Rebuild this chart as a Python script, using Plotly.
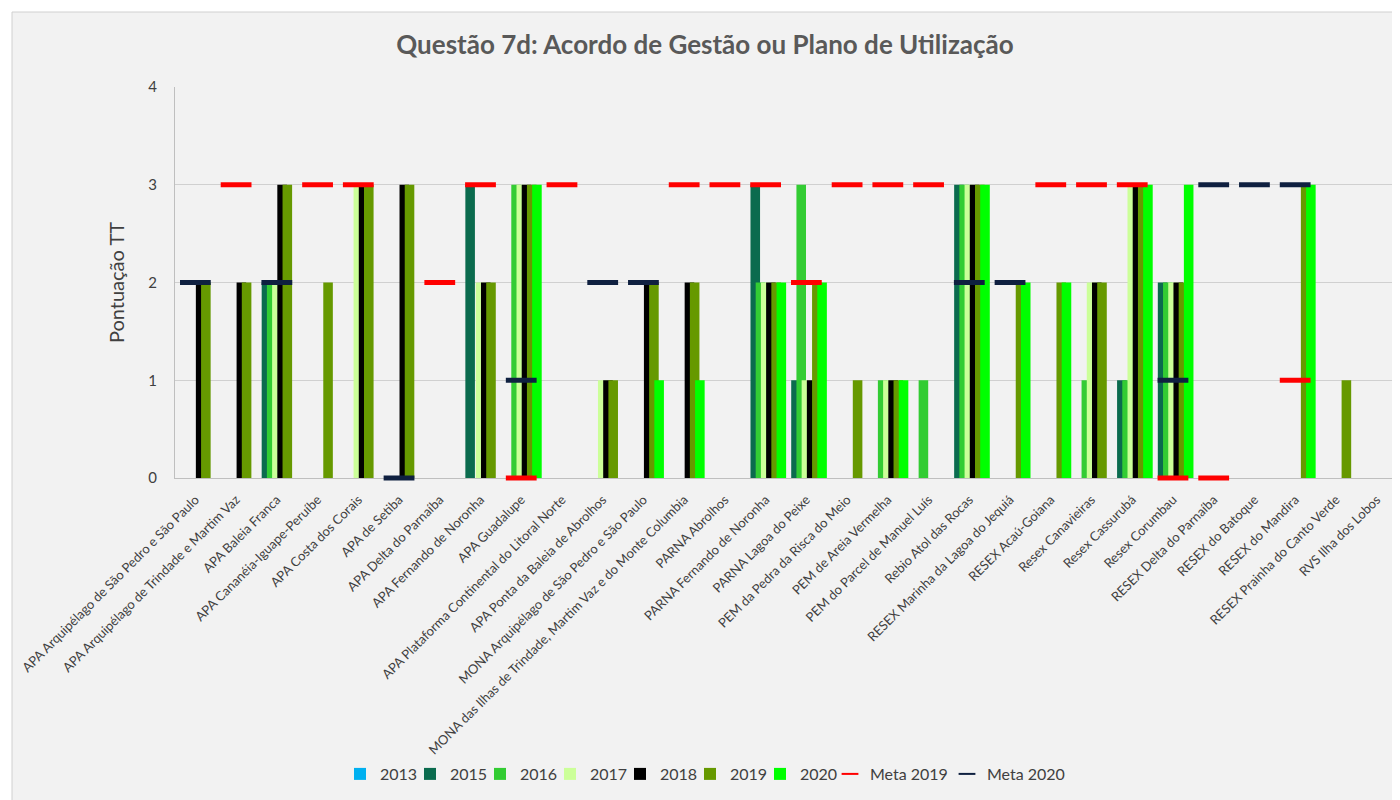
import plotly.graph_objects as go

categories = [
    "APA Arquipélago de São Pedro e São Paulo",
    "APA Arquipélago de Trindade e Martim Vaz",
    "APA Baleia Franca",
    "APA Cananéia-Iguape-Peruíbe",
    "APA Costa dos Corais",
    "APA de Setiba",
    "APA Delta do Parnaíba",
    "APA Fernando de Noronha",
    "APA Guadalupe",
    "APA Plataforma Continental do Litoral Norte",
    "APA Ponta da Baleia de Abrolhos",
    "MONA Arquipélago de São Pedro e São Paulo",
    "MONA das Ilhas de Trindade, Martim Vaz e do Monte Columbia",
    "PARNA Abrolhos",
    "PARNA Fernando de Noronha",
    "PARNA Lagoa do Peixe",
    "PEM da Pedra da Risca do Meio",
    "PEM de Areia Vermelha",
    "PEM do Parcel de Manuel Luís",
    "Rebio Atol das Rocas",
    "RESEX Marinha da Lagoa do Jequiá",
    "RESEX Acaú-Goiana",
    "Resex Canavieiras",
    "Resex Cassurubá",
    "Resex Corumbau",
    "RESEX Delta do Parnaíba",
    "RESEX do Batoque",
    "RESEX do Mandira",
    "RESEX Prainha do Canto Verde",
    "RVS Ilha dos Lobos",
]

v2013 = [0] * 30
v2015 = [0, 0, 2, 0, 0, 0, 0, 3, 0, 0, 0, 0, 0, 0, 3, 1, 0, 0, 0, 3, 0, 0, 0, 1, 2, 0, 0, 0, 0, 0]
v2016 = [0, 0, 2, 0, 0, 0, 0, 0, 3, 0, 0, 0, 0, 0, 2, 3, 0, 1, 1, 3, 0, 0, 1, 1, 2, 0, 0, 0, 0, 0]
v2017 = [0, 0, 2, 0, 3, 0, 0, 2, 3, 0, 1, 0, 0, 0, 2, 1, 0, 1, 0, 3, 0, 0, 2, 3, 2, 0, 0, 0, 0, 0]
v2018 = [2, 2, 3, 0, 3, 3, 0, 2, 3, 0, 1, 2, 2, 0, 2, 1, 0, 1, 0, 3, 0, 0, 2, 3, 2, 0, 0, 0, 0, 0]
v2019 = [2, 2, 3, 2, 3, 3, 0, 2, 3, 0, 1, 2, 2, 0, 2, 2, 1, 1, 0, 3, 2, 2, 2, 3, 2, 0, 0, 3, 1, 0]
v2020 = [0, 0, 0, 0, 0, 0, 0, 0, 3, 0, 0, 1, 1, 0, 2, 2, 0, 1, 0, 3, 2, 2, 0, 3, 3, 0, 0, 3, 0, 0]
meta2019 = [None, 3, None, 3, 3, None, 2, 3, 0, 3, None, None, 3, 3, 3, 2, 3, 3, 3, None,
            None, 3, 3, 3, 0, 0, None, 1, None, None]
meta2020 = [2, None, 2, None, None, 0, None, None, 1, None, 2, 2, None, None, None, None, None,
            None, None, 2, 2, None, None, None, 1, 3, 3, 3, None, None]

series = [
    ("2013", v2013, "#00B0F0"),
    ("2015", v2015, "#0B6B4E"),
    ("2016", v2016, "#33CC33"),
    ("2017", v2017, "#CCFF99"),
    ("2018", v2018, "#000000"),
    ("2019", v2019, "#669900"),
    ("2020", v2020, "#00FF00"),
]

FONT = "Lato"
OFF = 8  # page body margin
W, H = 1400 - OFF, 800 - OFF

fig = go.Figure()
bar_w = 0.235
step = 0.128
for i, (name, vals, col) in enumerate(series):
    fig.add_trace(go.Bar(
        x=categories, y=vals, name=name,
        marker=dict(color=col, line=dict(width=0)),
        width=bar_w, offset=-0.5 + i * step,
        legendwidth=25,
    ))

fig.add_trace(go.Scatter(
    x=categories, y=meta2019, name="Meta 2019", mode="markers",
    marker=dict(symbol="line-ew", size=22, line=dict(width=5, color="#FF0000"), color="#FF0000"),
    cliponaxis=False, legendwidth=72,
))
fig.add_trace(go.Scatter(
    x=categories, y=meta2020, name="Meta 2020", mode="markers",
    marker=dict(symbol="line-ew", size=22, line=dict(width=5, color="#0F2040"), color="#0F2040"),
    cliponaxis=False, legendwidth=85,
))

L, R, T, B = 175 - OFF, 1397 - OFF, 87 - OFF, 478 - OFF
PW, PH = R - L, B - T

def px(x):
    return (x - OFF - L) / PW

def py(y):
    return (B - (y - OFF)) / PH

fig.update_layout(
    width=W, height=H,
    barmode="overlay",
    paper_bgcolor="#FFFFFF",
    plot_bgcolor="#F2F2F2",
    margin=dict(l=L, r=W - R, t=T, b=H - B, autoexpand=False),
    font=dict(family=FONT, color="#595959", size=12),
    title=dict(
        text="<b>Questão 7d: Acordo de Gestão ou Plano de Utilização</b>",
        x=(705 - OFF) / W, xanchor="center", y=1 - (45 - OFF) / H, yanchor="middle",
        font=dict(family=FONT, size=26, color="#595959"),
    ),
    showlegend=True,
    legend=dict(
        orientation="h", x=px(340), xanchor="left", y=py(774), yanchor="middle",
        font=dict(family=FONT, size=16, color="#404040"),
        bgcolor="rgba(0,0,0,0)", traceorder="normal", itemsizing="constant",
    ),
    shapes=[
        dict(type="rect", xref="paper", yref="paper", layer="below",
             x0=px(12), x1=px(1420), y0=py(820), y1=py(12),
             fillcolor="#F2F2F2", line=dict(color="#D0D0D0", width=1)),
    ],
)

fig.update_xaxes(
    type="category", range=[-0.5, 29.5],
    tickangle=-45, tickfont=dict(family=FONT, size=13, color="#404040"),
    ticks="outside", ticklen=8, tickcolor="rgba(0,0,0,0)",
    showgrid=False, showline=True, linecolor="#BFBFBF", linewidth=1,
    zeroline=False, layer="below traces",
)
fig.update_yaxes(
    range=[0, 4], dtick=1, tick0=0,
    showgrid=True, gridcolor="#D0D0D0", gridwidth=1,
    showline=True, linecolor="#BFBFBF", linewidth=1,
    zeroline=False, layer="below traces",
    ticks="outside", ticklen=14, tickcolor="rgba(0,0,0,0)",
    tickfont=dict(family=FONT, size=15, color="#404040"),
    title=dict(text="Pontuação TT", font=dict(family=FONT, size=20, color="#404040"), standoff=18),
)

fig.write_html("out.html")
